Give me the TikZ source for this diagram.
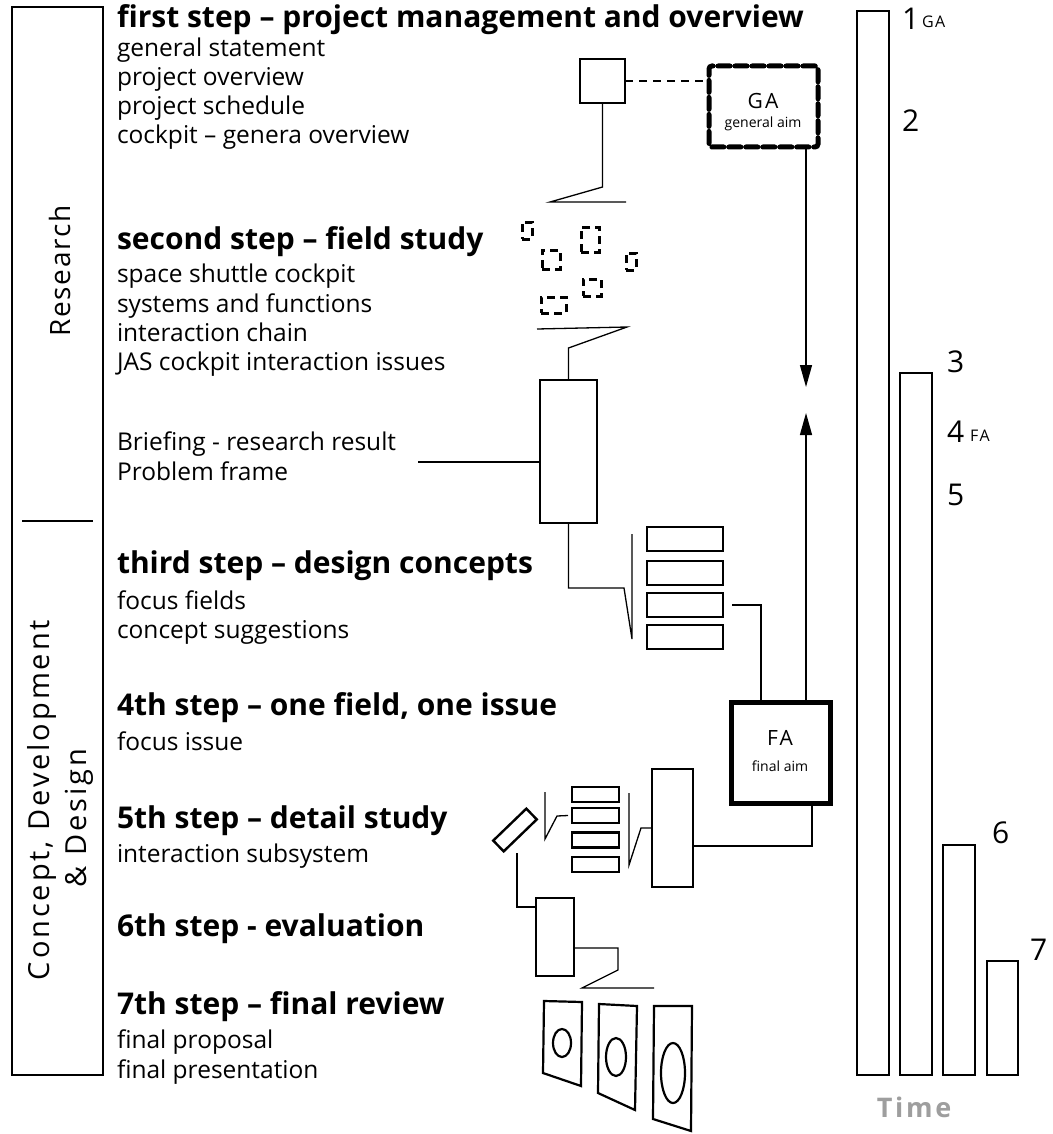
\documentclass[tikz,border=0pt]{standalone}
\usepackage{fontspec}
\setmainfont{Open Sans}
\newfontfamily\trackfont[LetterSpace=10]{Open Sans}
\newfontfamily\phasefont[LetterSpace=6]{Open Sans}
\usetikzlibrary{arrows.meta}
\begin{document}
\begin{tikzpicture}[x=1pt,y=-1pt,
  every node/.style={inner sep=0pt, outer sep=0pt},
  item/.style={anchor=base west, font=\fontsize{24.5}{28}\selectfont},
  head/.style={anchor=base west, font=\fontsize{30}{34}\selectfont\bfseries},
  phase label/.style={rotate=90, font=\fontsize{28}{32}\phasefont},
  box/.style={draw, line width=2.4pt},
  link/.style={line width=1.3pt},
  bar/.style={draw, line width=2.4pt, minimum width=32pt},
  num/.style={anchor=base west, font=\fontsize{30}{34}\selectfont},
  tag/.style={anchor=base west, font=\fontsize{16}{18}\trackfont},
  frag/.style={draw, line width=3pt, dash pattern=on 8pt off 5pt},
  panel/.style={line width=2.2pt, line join=miter},
  tip/.style={-{Triangle[length=22pt,width=12pt]}}
]
\fill[white] (0,0) rectangle (1052,1134);
\useasboundingbox (0,0) rectangle (1052,1134);

% phase column on the left
\node[box, minimum width=91pt, minimum height=1068pt] (phase) at (57.5,541) {};
\draw[line width=2pt] (22,521) -- (93,521);
\node[phase label] (research) at (60,271) {Research};
\node[phase label, font=\fontsize{29}{32}\trackfont] (concept) at (42,800) {Concept, Development};
\node[phase label, font=\fontsize{29}{32}\trackfont] (design) at (79,818) {\& Design};

% step texts
\node[head] (h1) at (117,28) {first step – project management and overview};
\node[item] (i11) at (117,57) {general statement};
\node[item] (i12) at (117,86) {project overview};
\node[item] (i13) at (117,115) {project schedule};
\node[item] (i14) at (117,144) {cockpit – genera overview};

\node[head] (h2) at (117,249) {second step – field study};
\node[item] (i21) at (117,282) {space shuttle cockpit};
\node[item] (i22) at (117,312) {systems and functions};
\node[item] (i23) at (117,341) {interaction chain};
\node[item] (i24) at (117,370) {JAS cockpit interaction issues};
\node[item] (i25) at (117,450) {Briefing - research result};
\node[item] (i26) at (117,480) {Problem frame};

\node[head] (h3) at (117,573) {third step – design concepts};
\node[item] (i31) at (117,609) {focus fields};
\node[item] (i32) at (117,638) {concept suggestions};

\node[head] (h4) at (117,715) {4th step – one field, one issue};
\node[item] (i41) at (117,750) {focus issue};

\node[head] (h5) at (117,828) {5th step – detail study};
\node[item] (i51) at (117,862) {interaction subsystem};

\node[head] (h6) at (117,936) {6th step - evaluation};

\node[head] (h7) at (117,1014) {7th step – final review};
\node[item] (i71) at (117,1048) {final proposal};
\node[item] (i72) at (117,1078) {final presentation};

% step one: overview square and general aim
\node[box, minimum width=45pt, minimum height=44pt] (sq) at (602.5,81) {};
\node[draw, line width=5pt, dash pattern=on 12pt off 5pt, line cap=round, rounded corners=3pt,
      minimum width=109pt, minimum height=81pt] (ga) at (763.5,106.5) {};
\node[font=\fontsize{21}{23}\trackfont] (gat) at (763,101) {GA};
\node[font=\fontsize{14}{16}\selectfont] (gas) at (763,124) {general aim};
\draw[link, dash pattern=on 8pt off 6pt] (sq.east) -- (sq.east -| ga.west);
\coordinate (z1) at (626,202);
\draw[link] (sq.south) -- (602.5,187) -- (550,202) -- (z1);

% step two: scattered fragments
\node[frag, minimum width=10pt, minimum height=17pt] (f1) at (527,230.5) {};
\node[frag, minimum width=18pt, minimum height=25pt] (f2) at (590,239.5) {};
\node[frag, minimum width=18pt, minimum height=19pt] (f3) at (551,259.5) {};
\node[frag, minimum width=10pt, minimum height=17pt] (f4) at (631,261.5) {};
\node[frag, minimum width=18pt, minimum height=17pt] (f5) at (592,287.5) {};
\node[frag, minimum width=25pt, minimum height=16pt] (f6) at (553.5,305) {};

% briefing block
\node[box, minimum width=57pt, minimum height=143pt] (rb) at (568.5,451.5) {};
\coordinate (z2) at (537,329);
\draw[link] (rb.north) -- (568.5,348) -- (627,327) -- (z2);
\coordinate (brf) at (418,462);
\draw[link] (brf) -- (brf -| rb.west);

% step three: concept stack
\node[box, minimum width=76pt, minimum height=24pt] (c1) at (685,539) {};
\node[box, minimum width=76pt, minimum height=24pt] (c2) at (685,573) {};
\node[box, minimum width=76pt, minimum height=24pt] (c3) at (685,605) {};
\node[box, minimum width=76pt, minimum height=24pt] (c4) at (685,637) {};
\coordinate (z3) at (632,534);
\draw[link] (rb.south) -- (568.5,588) -- (624,588) -- (632,639) -- (z3);

% final aim
\node[draw, line width=5pt, minimum width=99pt, minimum height=101pt] (fa) at (780.5,752.5) {};
\node[font=\fontsize{21}{23}\trackfont] (fat) at (780,738) {FA};
\node[font=\fontsize{14}{16}\selectfont] (fas) at (780,766) {final aim};
\draw[link] ([xshift=9pt]c3.east) -| ([xshift=-19.5pt]fa.north);

% aim arrows
\coordinate (gadown) at (806,387);
\coordinate (faup) at (806,413);
\draw[link, tip] (ga.south -| gadown) -- (gadown);
\draw[link, tip] (fa.north -| faup) -- (faup);

% step five: detail study
\node[box, minimum width=41pt, minimum height=118pt] (ds) at (672.5,828) {};
\node[box, minimum width=47pt, minimum height=15pt] (s1) at (595.5,794.5) {};
\node[box, minimum width=47pt, minimum height=15pt] (s2) at (595.5,815.5) {};
\node[box, minimum width=47pt, minimum height=15pt] (s3) at (595.5,840) {};
\node[box, minimum width=47pt, minimum height=15pt] (s4) at (595.5,864.5) {};
\node[box, rotate=44, minimum width=46pt, minimum height=15pt] (tr) at (515,830) {};
\coordinate (k) at (812,846);
\draw[link] (fa.south -| k) |- (ds.east |- k);
\coordinate (z4) at (629,793);
\draw[link] (ds.west) -- ++(-11pt,0) -- (629,865) -- (z4);
\coordinate (z5) at (545,792);
\draw[link] ([xshift=-4pt]s2.west) -- (557,816) -- (545,839) -- (z5);

% step six: evaluation
\node[box, minimum width=38pt, minimum height=78pt] (ev) at (555,937) {};
\coordinate (trb) at (517,853);
\draw[link] (trb) |- ([yshift=-9pt]ev.north west);
\coordinate (z6) at (654,988);
\draw[link] ([yshift=-50pt]ev.north east) -- (618,948) -- (618,970) -- (582,988) -- (z6);

% step seven: review panels
\draw[panel] (544,1001) -- (582,1002) -- (581,1086) -- (543,1073) -- cycle;
\draw[panel] (562,1043) ellipse [x radius=9pt, y radius=14pt];
\draw[panel] (599,1004) -- (637,1006) -- (635,1110) -- (598,1093) -- cycle;
\draw[panel] (616,1057) ellipse [x radius=10pt, y radius=19pt];
\draw[panel] (654,1006) -- (692,1006) -- (691,1131) -- (653,1119) -- cycle;
\draw[panel] (673,1073) ellipse [x radius=12pt, y radius=30pt];

% time bars
\node[bar, minimum height=1064pt] (b1) at (873,543) {};
\node[bar, minimum height=702pt] (b2) at (916,724) {};
\node[bar, minimum height=230pt] (b3) at (959,960) {};
\node[bar, minimum width=31pt, minimum height=114pt] (b4) at (1002.5,1018) {};
\node[num] (n1) at (902,30) {1};
\node[tag] (nga) at (922,28) {GA};
\node[num] (n2) at (902,132) {2};
\node[num] (n3) at (947,372) {3};
\node[num] (n4) at (947,442) {4};
\node[tag] (nfa) at (970,441) {FA};
\node[num] (n5) at (947,505) {5};
\node[num] (n6) at (992,843) {6};
\node[num] (n7) at (1030,960) {7};
\node[anchor=base, text=black!38, font=\fontsize{27}{30}\trackfont\bfseries] (time) at (914,1117) {Time};
\end{tikzpicture}
\end{document}
